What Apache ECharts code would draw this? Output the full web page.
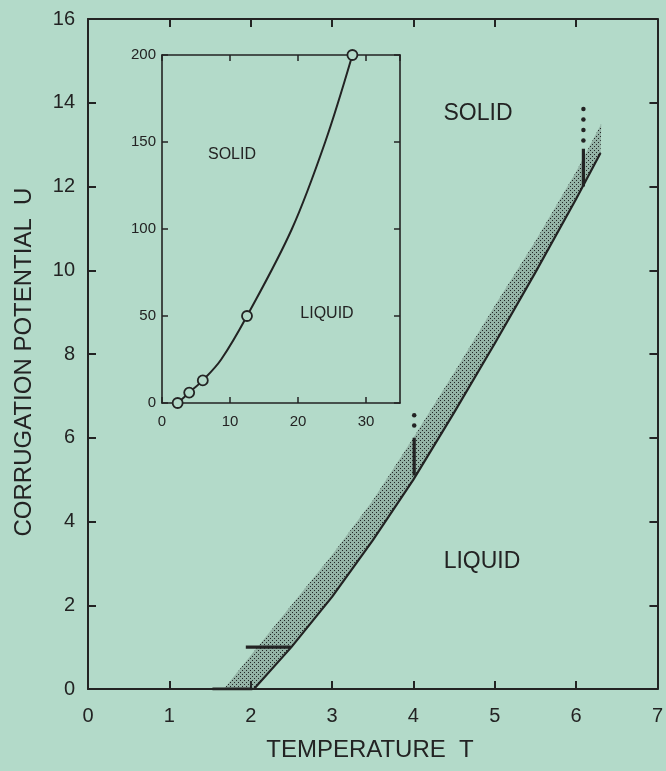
<!DOCTYPE html>
<html>
<head>
<meta charset="utf-8">
<script src="https://cdn.jsdelivr.net/npm/echarts@6/dist/echarts.min.js"></script>
<style>
html,body{margin:0;padding:0;background:#b3dac9;}
#chart{width:666px;height:771px;}
</style>
</head>
<body>
<div id="chart"></div>
<script>
// ---- Main plot data (T, U) ----
const lowerT = [2.04, 2.5, 3.0, 3.5, 4.0, 4.5, 5.0, 5.5, 6.0, 6.3];
const lowerU = [0, 1.0, 2.2, 3.55, 5.0, 6.6, 8.25, 9.95, 11.7, 12.8];
const upperT = [1.67, 2.0, 2.5, 3.0, 3.5, 4.0, 4.5, 5.0, 5.5, 6.0, 6.31];
const upperU = [0, 0.8, 2.0, 3.2, 4.5, 6.0, 7.55, 9.15, 10.7, 12.35, 13.5];
const errT = [4.01, 6.09];
const errLo = [5.1, 12.0];
const errHi = [6.0, 12.9];
const dotT = [4.01, 4.01, 6.09, 6.09, 6.09, 6.09];
const dotU = [6.29, 6.54, 13.1, 13.35, 13.6, 13.85];
const hbarT = [1.94, 2.49];
const hbarU = [1.0, 1.0];
const baseT = [1.53, 2.02];
const baseU = [0, 0];
const mainXTicks = [0, 1, 2, 3, 4, 5, 6, 7];
const mainYTicks = [0, 2, 4, 6, 8, 10, 12, 14, 16];
// ---- Inset data ----
const insetCurveX = [2.3, 4, 6, 8.7, 12.5, 19.1, 24, 28];
const insetCurveY = [0, 6, 13, 25, 50, 100, 150, 200];
const insetPtsX = [2.3, 4, 6, 12.5, 28];
const insetPtsY = [0, 6, 13, 50, 200];

const BG = '#b3dac9';
const INK = '#232323';
const FONT = 'Liberation Sans';

// stipple pattern
const pc = document.createElement('canvas');
pc.width = 4; pc.height = 4;
const pctx = pc.getContext('2d');
pctx.fillStyle = 'rgba(60,70,65,0.26)';
pctx.fillRect(0, 0, 4, 4);
pctx.fillStyle = 'rgba(25,28,28,0.92)';
pctx.fillRect(0, 0, 1, 1);
pctx.fillRect(2, 2, 1, 1);

const zip = (a, b) => a.map((v, i) => [v, b[i]]);
const bandPoly = zip(upperT, upperU).concat(zip(lowerT, lowerU).reverse());

const chart = echarts.init(document.getElementById('chart'), null, {renderer: 'canvas'});

const axisLine = {show: true, onZero: false, lineStyle: {color: INK, width: 2}};
const insetLine = {show: true, onZero: false, lineStyle: {color: INK, width: 1.6}};
const mainTick = {show: true, inside: true, length: 8, lineStyle: {color: INK, width: 2}};
const insetTick = {show: true, inside: true, length: 6, lineStyle: {color: INK, width: 1.5}};

chart.setOption({
  backgroundColor: BG,
  animation: false,
  grid: [
    {left: 88, right: 7, top: 19, bottom: 82},
    {left: 162, right: 266, top: 55, bottom: 368}
  ],
  xAxis: [
    {gridIndex: 0, type: 'value', min: mainXTicks[0], max: mainXTicks[mainXTicks.length - 1], interval: 1, position: 'bottom',
     axisLine, axisTick: mainTick, splitLine: {show: false},
     axisLabel: {color: INK, fontFamily: FONT, fontSize: 20, margin: 17}},
    {gridIndex: 0, type: 'value', min: 0, max: 7, interval: 1, position: 'top',
     axisLine, axisTick: mainTick, splitLine: {show: false}, axisLabel: {show: false}},
    {gridIndex: 1, type: 'value', min: 0, max: 35, interval: 10, position: 'bottom',
     axisLine: insetLine, axisTick: insetTick, splitLine: {show: false},
     axisLabel: {color: INK, fontFamily: FONT, fontSize: 15, margin: 11, showMaxLabel: false,
       formatter: v => (v % 10 === 0 ? String(v) : '')}},
    {gridIndex: 1, type: 'value', min: 0, max: 35, interval: 10, position: 'top',
     axisLine: insetLine, axisTick: insetTick, splitLine: {show: false}, axisLabel: {show: false}}
  ],
  yAxis: [
    {gridIndex: 0, type: 'value', min: mainYTicks[0], max: mainYTicks[mainYTicks.length - 1], interval: 2, position: 'left',
     axisLine, axisTick: mainTick, splitLine: {show: false},
     axisLabel: {color: INK, fontFamily: FONT, fontSize: 20, margin: 13}},
    {gridIndex: 0, type: 'value', min: 0, max: 16, interval: 2, position: 'right',
     axisLine, axisTick: mainTick, splitLine: {show: false}, axisLabel: {show: false}},
    {gridIndex: 1, type: 'value', min: 0, max: 200, interval: 50, position: 'left',
     axisLine: insetLine, axisTick: insetTick, splitLine: {show: false},
     axisLabel: {color: INK, fontFamily: FONT, fontSize: 15, margin: 6}},
    {gridIndex: 1, type: 'value', min: 0, max: 200, interval: 50, position: 'right',
     axisLine: insetLine, axisTick: insetTick, splitLine: {show: false}, axisLabel: {show: false}}
  ],
  series: [
    {
      type: 'custom', xAxisIndex: 0, yAxisIndex: 0, silent: true,
      data: [[0, 0]],
      renderItem: function (params, api) {
        const pts = bandPoly.map(p => api.coord(p));
        return {
          type: 'polygon',
          shape: {points: pts},
          style: {fill: {image: pc, repeat: 'repeat'}, stroke: null}
        };
      }
    },
    {type: 'line', xAxisIndex: 0, yAxisIndex: 0, data: zip(lowerT, lowerU), showSymbol: false,
     lineStyle: {color: INK, width: 2.2}, silent: true},
    {type: 'line', xAxisIndex: 0, yAxisIndex: 0, data: [[errT[0], errLo[0]], [errT[0], errHi[0]]], showSymbol: false,
     lineStyle: {color: INK, width: 3.2}, silent: true},
    {type: 'line', xAxisIndex: 0, yAxisIndex: 0, data: [[errT[1], errLo[1]], [errT[1], errHi[1]]], showSymbol: false,
     lineStyle: {color: INK, width: 3.2}, silent: true},
    {type: 'line', xAxisIndex: 0, yAxisIndex: 0, data: zip(hbarT, hbarU), showSymbol: false,
     lineStyle: {color: INK, width: 3.2}, silent: true},
    {type: 'line', xAxisIndex: 0, yAxisIndex: 0, data: zip(baseT, baseU), showSymbol: false,
     lineStyle: {color: INK, width: 3}, silent: true, z: 3},
    {type: 'scatter', xAxisIndex: 0, yAxisIndex: 0, data: zip(dotT, dotU), symbol: 'circle', symbolSize: 4.5,
     itemStyle: {color: INK, opacity: 1}, silent: true},
    {type: 'line', xAxisIndex: 2, yAxisIndex: 2, data: zip(insetCurveX, insetCurveY), smooth: 0.35, showSymbol: false,
     lineStyle: {color: INK, width: 2}, silent: true},
    {type: 'scatter', xAxisIndex: 2, yAxisIndex: 2, data: zip(insetPtsX, insetPtsY), symbol: 'circle', symbolSize: 10,
     itemStyle: {color: BG, borderColor: INK, borderWidth: 1.8, opacity: 1}, silent: true, z: 5}
  ],
  graphic: [
    {type: 'text', x: 478, y: 114, style: {text: 'SOLID', font: '23px "Liberation Sans"', fill: INK, align: 'center', verticalAlign: 'middle'}},
    {type: 'text', x: 482, y: 562, style: {text: 'LIQUID', font: '23px "Liberation Sans"', fill: INK, align: 'center', verticalAlign: 'middle'}},
    {type: 'text', x: 232, y: 155, style: {text: 'SOLID', font: '16px "Liberation Sans"', fill: INK, align: 'center', verticalAlign: 'middle'}},
    {type: 'text', x: 327, y: 314, style: {text: 'LIQUID', font: '16px "Liberation Sans"', fill: INK, align: 'center', verticalAlign: 'middle'}},
    {type: 'text', x: 370, y: 750, style: {text: 'TEMPERATURE  T', font: '24px "Liberation Sans"', fill: INK, align: 'center', verticalAlign: 'middle'}},
    {type: 'text', x: 24, y: 362, rotation: Math.PI / 2, style: {text: 'CORRUGATION POTENTIAL  U', font: '24px "Liberation Sans"', fill: INK, align: 'center', verticalAlign: 'middle'}}
  ]
});
</script>
</body>
</html>
